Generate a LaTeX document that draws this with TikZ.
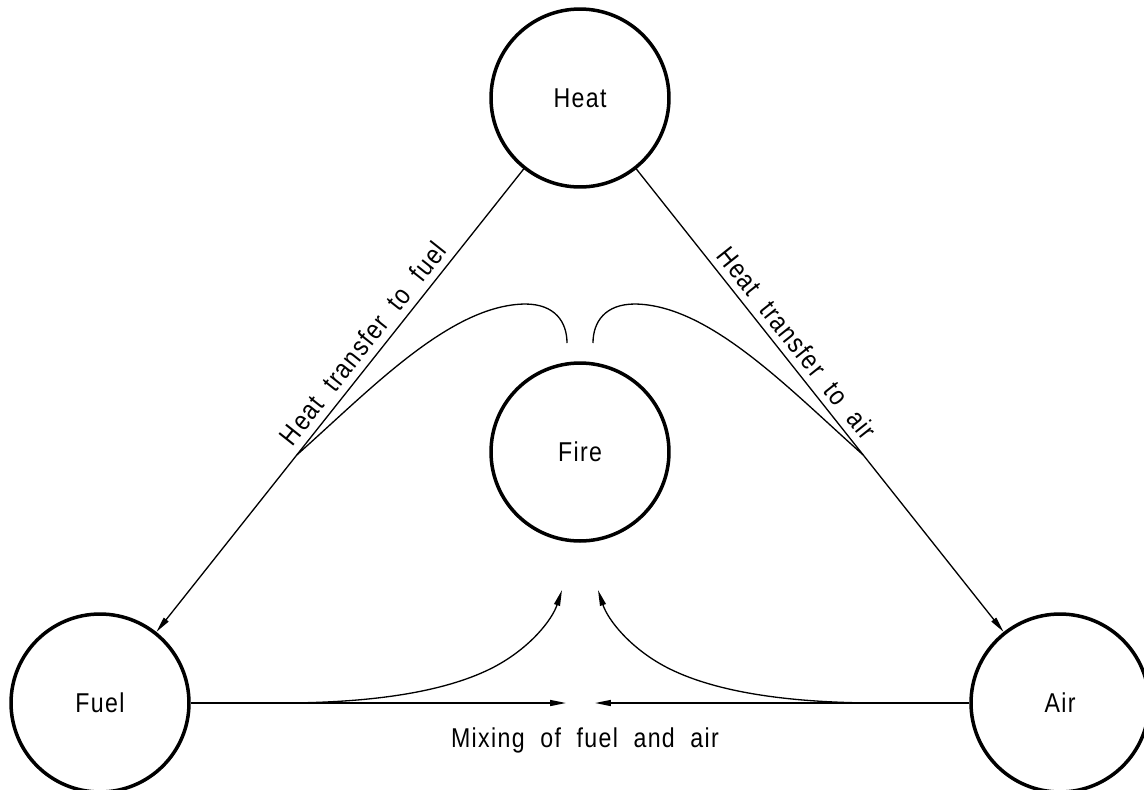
\documentclass[tikz,border=0pt]{standalone}
\usepackage{fontspec}
\setmainfont{Liberation Sans}[FakeStretch=0.85,LetterSpace=5,WordSpace=2]
\usetikzlibrary{arrows.meta,calc}
\begin{document}
\begin{tikzpicture}[x=0.02cm,y=-0.02cm,
  every node/.style={font=\fontsize{15.5}{18}\selectfont},
  blob/.style={circle,draw,line width=2pt,minimum size=3.56cm,inner sep=0pt},
  conn/.style={line width=0.75pt},
  arr/.style={conn,-{Triangle[length=9pt,width=3.4pt]}},
  lbl/.style={sloped,above,inner sep=4pt}]
\useasboundingbox (0,0) rectangle (1144,789);
\node[blob] (heat) at (580,98) {Heat};
\node[blob] (fire) at (580,452) {Fire};
\node[blob] (fuel) at (100,703) {Fuel};
\node[blob] (air) at (1060,703) {Air};
\coordinate (fl) at ($(heat)!0.59!(fuel)$);
\coordinate (ar) at ($(heat)!0.59!(air)$);
\coordinate (mixL) at (566,703);
\coordinate (mixR) at (595,703);
\coordinate (fuelc) at (280,703);
\coordinate (airc) at (880,703);
\coordinate (ftip) at (562,590);
\coordinate (atip) at (598,590);
\coordinate (fireL) at (567,343);
\coordinate (fireR) at (593,343);
\draw[arr] (heat) -- (fuel) node[lbl,pos=0.4] {Heat transfer to fuel};
\draw[arr] (heat) -- (air) node[lbl,pos=0.4] {Heat transfer to air};
\draw[conn] (fl) .. controls (370,390) and (450,305) .. (525,304) .. controls (555,304) and (567,322) .. (fireL);
\draw[conn] (ar) .. controls (790,390) and (710,305) .. (635,304) .. controls (605,304) and (593,322) .. (fireR);
\draw[arr] (fuelc) .. controls (380,703) and (450,690) .. (494,667) .. controls (530,648) and (552,620) .. (ftip);
\draw[arr] (airc) .. controls (780,703) and (710,690) .. (666,667) .. controls (630,648) and (608,620) .. (atip);
\draw[arr] (fuel) -- (mixL);
\draw[arr] (air) -- (mixR);
\node (mix) at (585,740) {Mixing of fuel and air};
\end{tikzpicture}
\end{document}
